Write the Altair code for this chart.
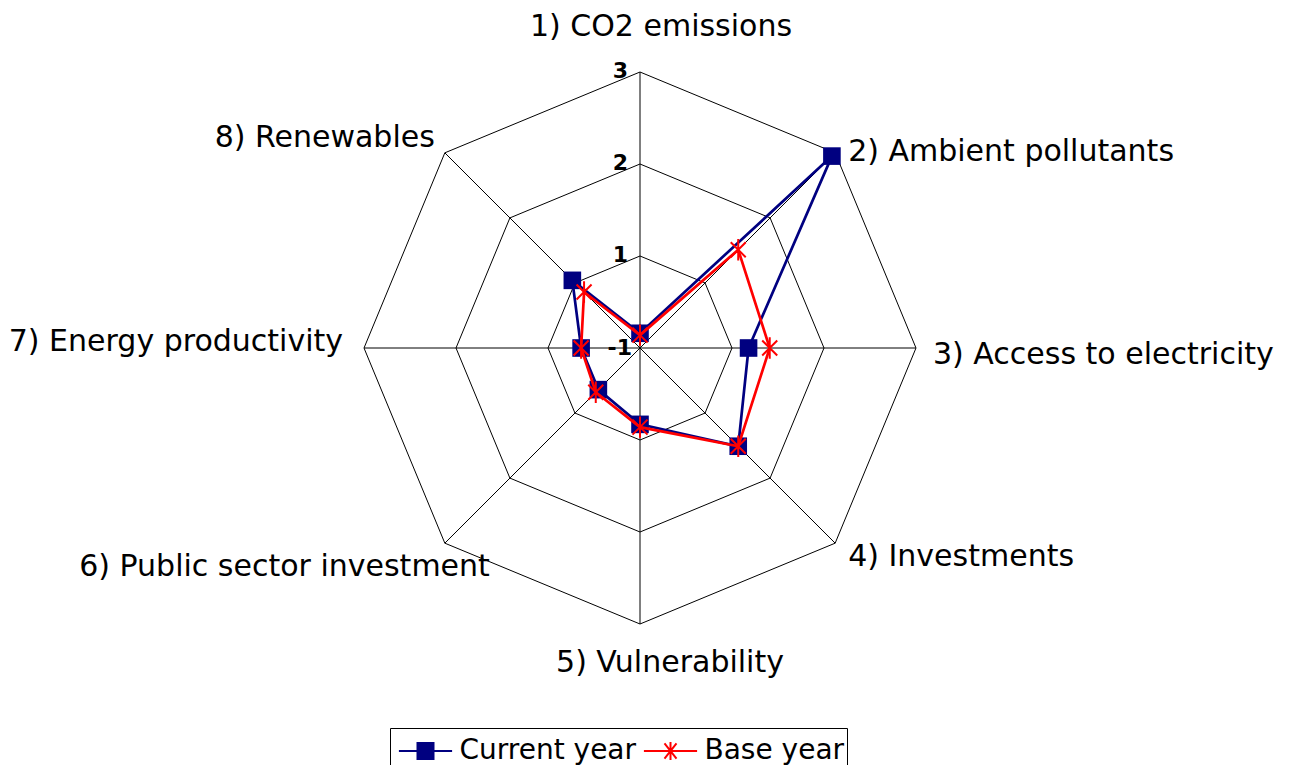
import altair as alt
import pandas as pd

# ---------------- data ----------------
categories = [
    "1) CO2 emissions",
    "2) Ambient pollutants",
    "3) Access to electricity",
    "4) Investments",
    "5) Vulnerability",
    "6) Public sector investment",
    "7) Energy productivity",
    "8) Renewables",
]
current_year = [0.16, 2.95, 1.18, 1.51, 0.83, 0.64, 0.64, 1.04]
base_year = [0.14, 1.51, 1.41, 1.51, 0.86, 0.68, 0.64, 0.86]
series_names = ["Current year", "Base year"]
ring_levels = [1, 2, 3]
tick_levels = [0, 1, 2, 3]
tick_labels = ["-1", "1", "2", "3"]

# ---------------- styling / layout ----------------
NAVY = "#000080"
RED = "#FF0000"
FONT = "DejaVu Sans"
N = len(categories)
UNIT = 92.0          # pixels per radial unit
W, H = 1275, 757     # plot area
CX, CY = 632, 340    # centre in plot coords

xs = alt.Scale(domain=[-CX / UNIT, (W - CX) / UNIT], nice=False, zero=False)
ys = alt.Scale(domain=[-(H - CY) / UNIT, CY / UNIT], nice=False, zero=False)
X = alt.X("px:Q", scale=xs, axis=None)
Y = alt.Y("py:Q", scale=ys, axis=None)


def polar(ch):
    return ch.transform_calculate(
        ang=f"datum.k * 2 * PI / {N}"
    ).transform_calculate(
        px="datum.r * sin(datum.ang)", py="datum.r * cos(datum.ang)"
    )


# series table
rows = []
for s, vals in zip(series_names, [current_year, base_year]):
    for j in range(N + 1):
        rows.append(dict(series=s, k=j % N, r=vals[j % N], o=j, cat=categories[j % N]))
series_df = pd.DataFrame(rows)

# grid tables
ring_rows = []
for lv in ring_levels:
    for j in range(N + 1):
        ring_rows.append(dict(ring=lv, k=j % N, r=lv, o=j))
ring_df = pd.DataFrame(ring_rows)

spoke_rows = []
for j in range(N):
    spoke_rows.append(dict(k=j, r=0, o=0))
    spoke_rows.append(dict(k=j, r=max(ring_levels), o=1))
spoke_df = pd.DataFrame(spoke_rows)

cat_df = pd.DataFrame(dict(k=list(range(N)), r=[max(ring_levels)] * N, cat=categories))
tick_df = pd.DataFrame(dict(k=[0] * len(tick_levels), r=tick_levels, lab=tick_labels))

# ---------------- layers ----------------
rings = polar(alt.Chart(ring_df)).mark_line(color="black", strokeWidth=1).encode(
    x=X, y=Y, detail="ring:N", order="o:Q"
)
spokes = polar(alt.Chart(spoke_df)).mark_line(color="black", strokeWidth=1).encode(
    x=X, y=Y, detail="k:N", order="o:Q"
)

cur_line = polar(alt.Chart(series_df).transform_filter("datum.series == 'Current year'")).mark_line(
    color=NAVY, strokeWidth=2.7
).encode(x=X, y=Y, order="o:Q")
cur_pts = polar(
    alt.Chart(series_df).transform_filter(f"datum.series == 'Current year' && datum.o < {N}")
).mark_square(color=NAVY, size=310, opacity=1).encode(x=X, y=Y)

star_path = "M-0.7,-0.7L0.7,0.7M0.7,-0.7L-0.7,0.7M0,-1L0,1"
base_line = polar(alt.Chart(series_df).transform_filter("datum.series == 'Base year'")).mark_line(
    color=RED, strokeWidth=2.7
).encode(x=X, y=Y, order="o:Q")
base_pts = polar(
    alt.Chart(series_df).transform_filter(f"datum.series == 'Base year' && datum.o < {N}")
).mark_point(shape=star_path, size=460, stroke=RED, strokeWidth=2, filled=False, opacity=1).encode(x=X, y=Y)

# category labels
label_styles = [
    ("center", 21, -45),
    ("left", 13, -1),
    ("left", 17, 7),
    ("left", 13, 14),
    ("center", 30, 39),
    ("right", 45, 24),
    ("right", -21, -6),
    ("right", -10, -15),
]
cat_layers = []
for i, (al, dx, dy) in enumerate(label_styles):
    cat_layers.append(
        polar(alt.Chart(cat_df).transform_filter(f"datum.k == {i}")).mark_text(
            align=al, baseline="middle", dx=dx, dy=dy, font=FONT, fontSize=30, color="black"
        ).encode(x=X, y=Y, text="cat:N")
    )

# radial tick labels
ticks_outer = polar(alt.Chart(tick_df).transform_filter("datum.r > 0")).mark_text(
    align="right", baseline="middle", dx=-12, dy=-1, font=FONT, fontSize=22,
    fontWeight="bold", color="black"
).encode(x=X, y=Y, text="lab:N")
ticks_centre = polar(alt.Chart(tick_df).transform_filter("datum.r == 0")).mark_text(
    align="right", baseline="middle", dx=-8, dy=0, font=FONT, fontSize=22,
    fontWeight="bold", color="black"
).encode(x=X, y=Y, text="lab:N")

# legend (line + marker symbols)
LEG_SIZE = 1600
sq_leg = "M-1.33,0H1.33M-0.4,-0.4H0.4V0.4H-0.4Z"
star_leg = "M-1.33,0H1.33M-0.3,-0.38L0.3,0.38M0.3,-0.38L-0.3,0.38M0,-0.45V0.45"
leg = alt.Legend(
    title=None, orient="none", legendX=382, legendY=720, direction="horizontal",
    strokeColor="black", fillColor="white", padding=2, labelFont=FONT,
    labelFontSize=28, labelColor="black", labelLimit=500, symbolSize=LEG_SIZE,
    symbolStrokeWidth=2, columnPadding=0, labelOffset=13, symbolOffset=12.5,
    symbolOpacity=1,
)
legend_layer = alt.Chart(series_df).transform_filter("false").mark_point(
    filled=True, strokeWidth=2, opacity=1, size=LEG_SIZE
).encode(
    x=alt.X("r:Q", scale=xs, axis=None),
    y=alt.Y("o:Q", scale=ys, axis=None),
    shape=alt.Shape("series:N", scale=alt.Scale(domain=series_names, range=[sq_leg, star_leg]), legend=leg),
    fill=alt.Fill("series:N", scale=alt.Scale(domain=series_names, range=[NAVY, RED]), legend=leg),
    stroke=alt.Stroke("series:N", scale=alt.Scale(domain=series_names, range=[NAVY, RED]), legend=leg),
)

chart = alt.layer(
    rings, spokes, cur_line, cur_pts, base_line, base_pts,
    *cat_layers, ticks_outer, ticks_centre, legend_layer
).properties(
    width=W, height=H, padding=0, autosize=alt.AutoSizeParams(type="none"),
    background="white",
).configure_view(stroke=None)

chart.save("out.html", embed_options={"renderer": "svg", "actions": False})
